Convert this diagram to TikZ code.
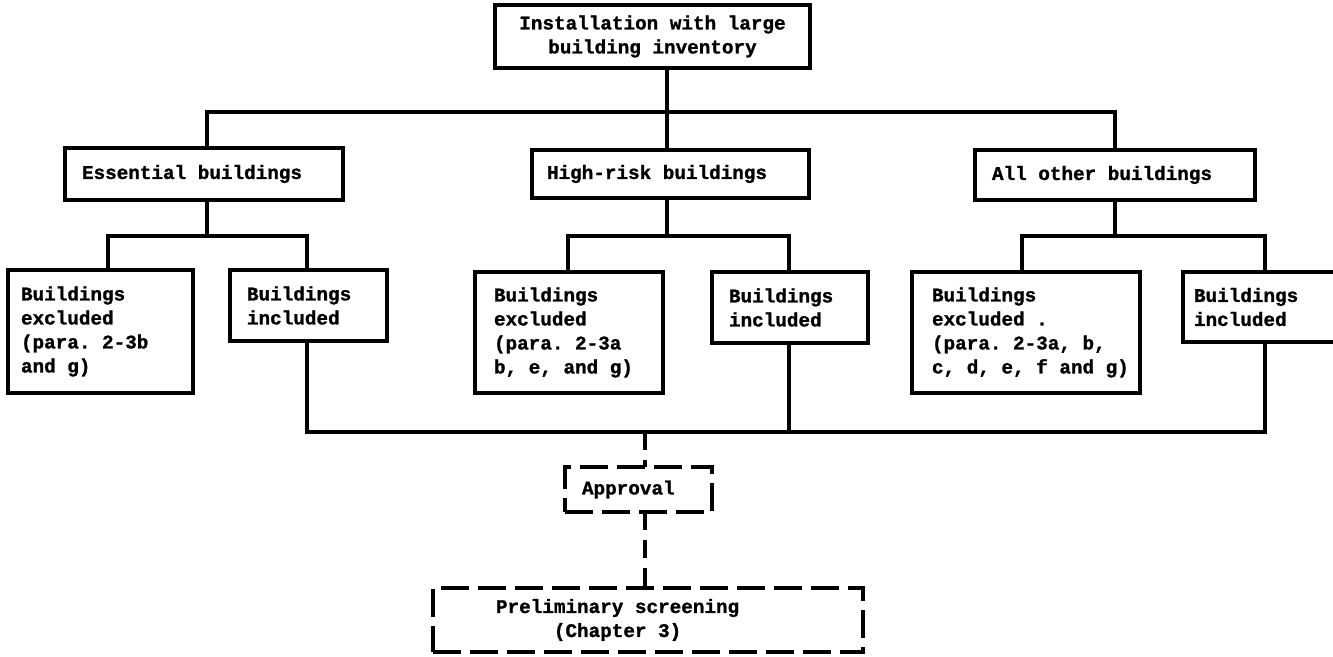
\documentclass[tikz,border=0pt]{standalone}
\usepackage{fontspec}
\setmonofont{Liberation Mono}[BoldFeatures={FakeBold=1.2}]
% typewriter face with full-width spaces
\newcommand{\boxfont}{\ttfamily\bfseries\fontsize{19.3pt}{24pt}\selectfont}
\newcommand{\monospaces}{\spaceskip=0.6em\relax\xspaceskip=0.6em\relax}
\tikzset{
  base/.style={draw, line width=3.3pt, rectangle, anchor=north west, outer sep=0pt,
    font=\boxfont, execute at begin node=\monospaces},
  % box(left offset of text, box width, box height)
  lbox/.style n args={3}{base, align=flush left, inner xsep=#1, inner ysep=0pt,
    text width=#2-2*#1, minimum width=#2, minimum height=#3},
  cbox/.style n args={2}{base, align=flush center, inner ysep=0pt,
    minimum width=#1, minimum height=#2},
  dbox/.style={dash pattern=on 28pt off 9pt},
  link/.style={line width=3.3pt},
  dlink/.style={line width=3.3pt, dash pattern=on 18pt off 10pt}
}
\begin{document}
\begin{tikzpicture}[x=1pt,y=-1pt]
\useasboundingbox (0,0) rectangle (1333,656);

% top level
\node[cbox={315pt}{63pt}] (top) at (495,5) {Installation with large\\building inventory};

% categories
\node[lbox={17pt}{278pt}{52pt}] (ess)  at (65,148)  {Essential buildings};
\node[lbox={15pt}{277pt}{48pt}] (high) at (532,150) {High-risk buildings};
\node[lbox={17pt}{280pt}{50pt}] (all)  at (975,150) {All other buildings};

% excluded / included
\node[lbox={13pt}{185pt}{123pt}] (exE) at (8,270)    {Buildings\\excluded\\(para. 2-3b\\and g)};
\node[lbox={17pt}{157pt}{71pt}]  (inE) at (230,270)  {Buildings\\included};
\node[lbox={19pt}{188pt}{121pt}] (exH) at (475,272)  {Buildings\\excluded\\(para. 2-3a\\b, e, and g)};
\node[lbox={17pt}{156pt}{71pt}]  (inH) at (712,272)  {Buildings\\included};
\node[lbox={20pt}{228pt}{121pt}] (exA) at (912,272)
  {Buildings\\excluded .\\(para. 2-3a, b,\\\mbox{c, d, e, f and g)}};
\node[lbox={11pt}{165pt}{70pt}]  (inA) at (1183,272) {Buildings\\included};

% approval and screening
\node[lbox={17pt}{147pt}{45pt}, dbox] (appr) at (565,467) {Approval};
\node[lbox={63pt}{430pt}{64pt}, dbox] (pre)  at (433,588)
  {Preliminary screening\\\hspace*{3em}(Chapter 3)};

% junction points
\coordinate (hub) at (667,112);
\coordinate (eTop) at (207,112);
\coordinate (aTop) at (1115,112);
\coordinate (eHub) at (207,236);
\coordinate (eL) at (108,236);
\coordinate (eR) at (307,236);
\coordinate (hHub) at (667,236);
\coordinate (hL) at (568,236);
\coordinate (hR) at (789,236);
\coordinate (aHub) at (1115,236);
\coordinate (aL) at (1022,236);
\coordinate (aR) at (1265,236);
\coordinate (bL) at (307,432);
\coordinate (bH) at (789,432);
\coordinate (bR) at (1265,432);
\coordinate (bM) at (645,432);

% first level
\draw[link] (top.south -| hub) -- (hub);
\draw[link] (ess.north -| eTop) -- (eTop) -- (aTop) -- (all.north -| aTop);
\draw[link] (hub) -- (high.north -| hub);

% second level
\draw[link] (ess.south -| eHub) -- (eHub);
\draw[link] (exE.north -| eL) -- (eL) -- (eR) -- (inE.north -| eR);
\draw[link] (high.south -| hHub) -- (hHub);
\draw[link] (exH.north -| hL) -- (hL) -- (hR) -- (inH.north -| hR);
\draw[link] (all.south -| aHub) -- (aHub);
\draw[link] (exA.north -| aL) -- (aL) -- (aR) -- (inA.north -| aR);

% collecting line of included buildings
\draw[link] (inE.south -| bL) -- (bL) -- (bR) -- (inA.south -| bR);
\draw[link] (inH.south -| bH) -- (bH);

% dashed path to approval and screening
\draw[dlink] (bM) -- (appr.north -| bM);
\draw[dlink] (appr.south -| bM) -- (pre.north -| bM);
\end{tikzpicture}
\end{document}
